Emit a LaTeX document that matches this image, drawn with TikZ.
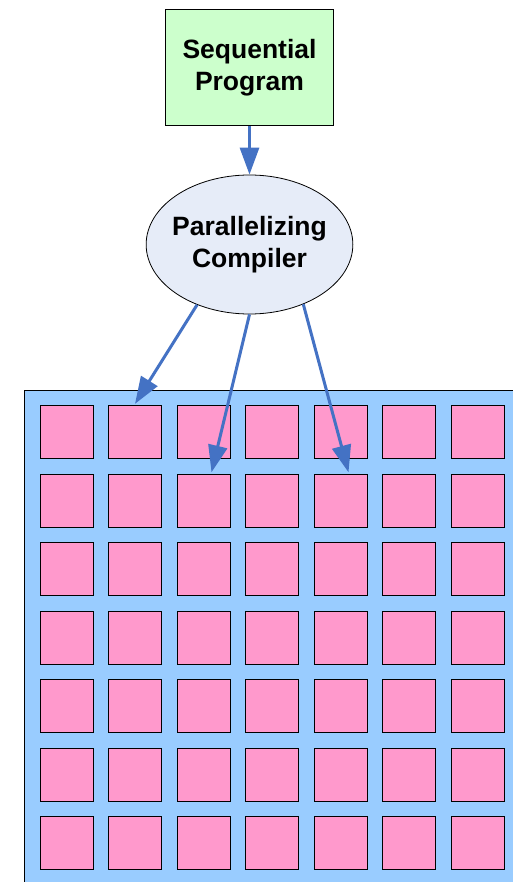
\documentclass[tikz,border=0pt]{standalone}
\usepackage{fontspec}
\setmainfont{Liberation Sans}
\usetikzlibrary{shapes.geometric,arrows.meta}
\definecolor{arrowblue}{HTML}{4472C4}
\definecolor{boxgreen}{HTML}{CCFFCC}
\definecolor{ellfill}{HTML}{E6ECF8}
\definecolor{gridblue}{HTML}{99CCFF}
\definecolor{cellpink}{HTML}{FF99CC}
\tikzset{
  labeltext/.style={font=\bfseries\fontsize{26.5}{32}\selectfont, align=center, text=black},
  flowarrow/.style={draw=arrowblue, line width=3pt, -{Triangle[length=27pt,width=19pt]}},
  cell/.style={draw=black, line width=0.8pt, fill=cellpink, minimum size=53pt, inner sep=0pt},
}
\begin{document}
\begin{tikzpicture}[x=1pt,y=-1pt]
\useasboundingbox (0,0) rectangle (513,882);
\begin{scope}
\clip (0,0) rectangle (513,882);
\draw[fill=gridblue, draw=black, line width=1pt] (24.5,390.3) rectangle (530,900);
\end{scope}
\node[draw=black, line width=0.8pt, fill=boxgreen, minimum width=167.6pt, minimum height=116.4pt, inner sep=0pt, labeltext] (seq) at (249.5,67.5) {Sequential\\Program};
\node[ellipse, draw=black, line width=0.8pt, fill=ellfill, minimum width=206.7pt, minimum height=139pt, inner xsep=-8pt, inner ysep=0pt, labeltext] (comp) at (249.5,244.5) {Parallelizing\\Compiler};
\foreach \r in {1,...,7} {
  \foreach \c in {1,...,7} {
    \node[cell] (s-\r-\c) at ({66.5+68.5*(\c-1)},{432.2+68.5*(\r-1)}) {};
  }
}
\draw[flowarrow] (seq.south) -- (comp.north);
\draw[flowarrow] (comp.229) -- ([yshift=1.5pt]s-1-2.north);
\draw[flowarrow] (comp.south) -- ([xshift=8pt,yshift=1.5pt]s-2-3.north);
\draw[flowarrow] (comp.312) -- ([xshift=8pt,yshift=1.5pt]s-2-5.north);
\end{tikzpicture}
\end{document}
